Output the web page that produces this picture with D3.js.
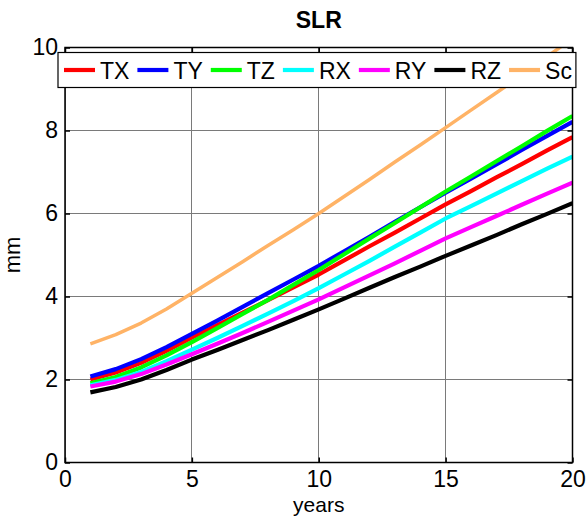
<!DOCTYPE html>
<html>
<head>
<meta charset="utf-8">
<script src="https://cdn.jsdelivr.net/npm/d3@7"></script>
<style>
  html, body { margin: 0; padding: 0; background: #fff; }
  svg { display: block; font-family: "Liberation Sans", Arial, sans-serif; }
</style>
</head>
<body>
<svg id="chart" width="587" height="517"></svg>
<script>
// Years since start of the series
const years = [1,2,3,4,5,6,7,8,9,10,11,12,13,14,15,16,17,18,19,20];

// Parameter values in mm
const TX = [2.00,2.17,2.40,2.69,3.01,3.31,3.61,3.91,4.22,4.53,4.87,5.21,5.54,5.88,6.22,6.54,6.87,7.19,7.52,7.84];
const TY = [2.07,2.25,2.49,2.78,3.10,3.42,3.75,4.08,4.41,4.74,5.09,5.44,5.80,6.15,6.50,6.84,7.18,7.53,7.87,8.21];
const TZ = [1.91,2.06,2.29,2.58,2.90,3.24,3.58,3.92,4.28,4.64,5.02,5.40,5.77,6.15,6.53,6.89,7.26,7.62,7.99,8.35];
const RX = [1.86,1.99,2.18,2.44,2.72,3.00,3.29,3.59,3.89,4.20,4.53,4.86,5.20,5.54,5.88,6.18,6.48,6.78,7.08,7.37];
const RY = [1.83,1.95,2.13,2.36,2.61,2.86,3.12,3.39,3.66,3.93,4.22,4.51,4.80,5.10,5.40,5.67,5.94,6.21,6.48,6.74];
const RZ = [1.69,1.82,2.00,2.23,2.48,2.71,2.95,3.19,3.44,3.69,3.95,4.21,4.47,4.72,4.98,5.23,5.48,5.74,5.99,6.25];
const Sc = [2.86,3.08,3.36,3.70,4.08,4.46,4.84,5.23,5.61,6.00,6.41,6.82,7.24,7.65,8.07,8.49,8.91,9.33,9.78,10.22];

const seriesNames = ["TX","TY","TZ","RX","RY","RZ","Sc"];
const seriesValues = [TX, TY, TZ, RX, RY, RZ, Sc];
const seriesColors = ["#ff0000","#0000ff","#00ff00","#00ffff","#ff00ff","#000000","#ffb366"];

const xTicks = [0,5,10,15,20];
const yTicks = [0,2,4,6,8,10];

const svg = d3.select("#chart");
const plotL = 65, plotR = 572.5, plotT = 47.5, plotB = 462.5;

const x = d3.scaleLinear().domain([0,20]).range([plotL,plotR]);
const y = d3.scaleLinear().domain([0,10]).range([plotB,plotT]);

svg.append("defs").append("clipPath").attr("id","plotClip")
  .append("rect").attr("x",plotL).attr("y",plotT).attr("width",plotR-plotL).attr("height",plotB-plotT);

// grid
const grid = svg.append("g").attr("stroke","#7a7a7a").attr("stroke-width",1).attr("shape-rendering","crispEdges");
xTicks.forEach(t => grid.append("line").attr("x1",x(t)).attr("x2",x(t)).attr("y1",plotT).attr("y2",plotB));
yTicks.forEach(t => grid.append("line").attr("y1",y(t)).attr("y2",y(t)).attr("x1",plotL).attr("x2",plotR));

// axes with inward ticks on all four sides
const fontSize = 23;
const axB = svg.append("g").attr("transform",`translate(0,${plotB})`)
  .call(d3.axisBottom(x).tickValues(xTicks).tickSizeInner(-5).tickSizeOuter(0).tickPadding(8));
const axT = svg.append("g").attr("transform",`translate(0,${plotT})`)
  .call(d3.axisTop(x).tickValues(xTicks).tickSizeInner(-5).tickSizeOuter(0).tickFormat(""));
const axL = svg.append("g").attr("transform",`translate(${plotL},0)`)
  .call(d3.axisLeft(y).tickValues(yTicks).tickSizeInner(-5).tickSizeOuter(0).tickPadding(7));
const axR = svg.append("g").attr("transform",`translate(${plotR},0)`)
  .call(d3.axisRight(y).tickValues(yTicks).tickSizeInner(-5).tickSizeOuter(0).tickFormat(""));
[axB,axT,axL,axR].forEach(a => {
  a.select(".domain").remove();
  a.selectAll("line").attr("stroke","#000").attr("stroke-width",1.5);
  a.selectAll("text").attr("fill","#000").style("font-size",fontSize+"px")
    .style("font-family",'"Liberation Sans", Arial, sans-serif');
});

// series lines
const line = d3.line().x((d,i) => x(years[i])).y(d => y(d));
const lines = svg.append("g").attr("clip-path","url(#plotClip)");
seriesValues.forEach((vals,k) => {
  lines.append("path").datum(vals)
    .attr("fill","none")
    .attr("stroke",seriesColors[k])
    .attr("stroke-width", k === 6 ? 3.5 : 4.2)
    .attr("stroke-linejoin","round")
    .attr("d",line);
});

// frame
svg.append("rect").attr("x",plotL).attr("y",plotT).attr("width",plotR-plotL).attr("height",plotB-plotT)
  .attr("fill","none").attr("stroke","#000").attr("stroke-width",1.5);

// legend
const legend = svg.append("g");
const legBox = legend.append("rect").attr("x",58).attr("y",52.5).attr("height",35)
  .attr("fill","#fff").attr("stroke","#000").attr("stroke-width",1.2);
let cx = 64;
seriesNames.forEach((name,k) => {
  legend.append("line").attr("x1",cx).attr("x2",cx+31).attr("y1",70).attr("y2",70)
    .attr("stroke",seriesColors[k]).attr("stroke-width",4.2);
  const t = legend.append("text").attr("x",cx+36).attr("y",78.5)
    .style("font-size","23px").attr("fill","#000").text(name);
  cx = cx + 36 + t.node().getComputedTextLength() + 8;
});
legBox.attr("width", cx - 8 + 4 - 58);

// title and axis labels
svg.append("text").attr("x",(plotL+plotR)/2).attr("y",28).attr("text-anchor","middle")
  .style("font-size","23px").style("font-weight","bold").text("SLR");
svg.append("text").attr("x",(plotL+plotR)/2).attr("y",512).attr("text-anchor","middle")
  .style("font-size","21px").text("years");
svg.append("text").attr("transform",`translate(20,${(plotT+plotB)/2}) rotate(-90)`)
  .attr("text-anchor","middle").style("font-size","22px").text("mm");
</script>
</body>
</html>
